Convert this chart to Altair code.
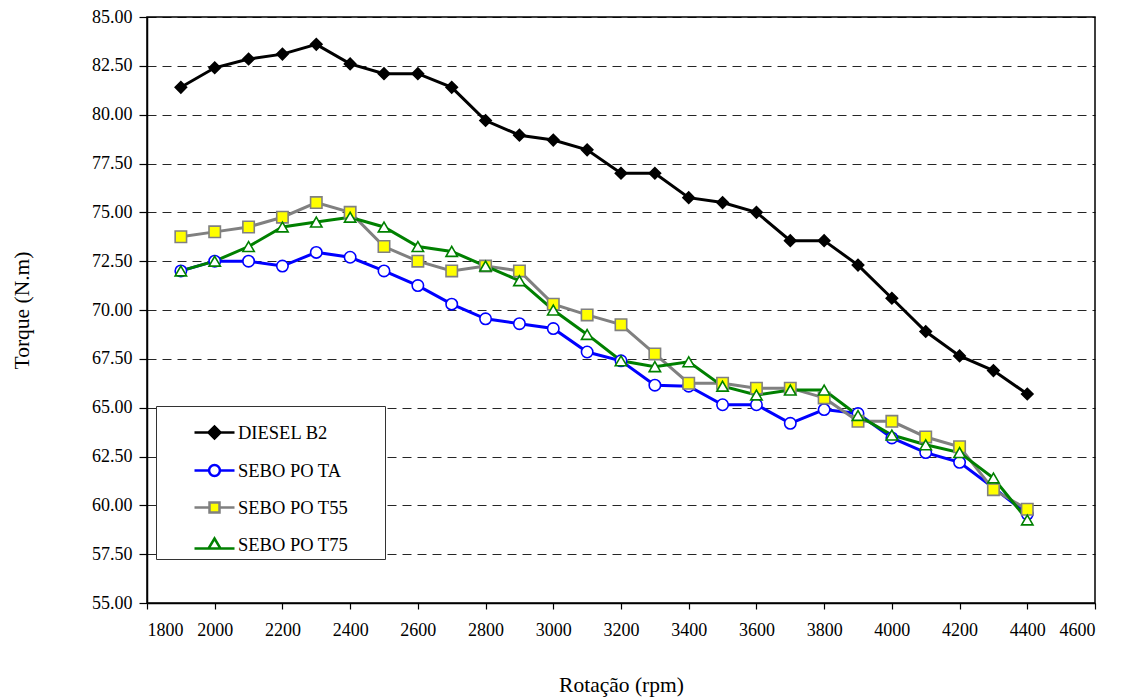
import altair as alt
import pandas as pd

rpm = [1900, 2000, 2100, 2200, 2300, 2400, 2500, 2600, 2700, 2800, 2900, 3000, 3100,
       3200, 3300, 3400, 3500, 3600, 3700, 3800, 3900, 4000, 4100, 4200, 4300, 4400]

diesel_b2 = [81.40, 82.40, 82.85, 83.10, 83.60, 82.60, 82.10, 82.10, 81.40, 79.70, 78.95, 78.70, 78.20,
             77.00, 77.00, 75.75, 75.50, 75.00, 73.55, 73.55, 72.30, 70.60, 68.90, 67.65, 66.90, 65.70]
sebo_ta = [72.00, 72.50, 72.50, 72.25, 72.95, 72.70, 72.00, 71.25, 70.30, 69.55, 69.30, 69.05, 67.85,
           67.40, 66.15, 66.10, 65.15, 65.15, 64.20, 64.90, 64.70, 63.45, 62.70, 62.20, 60.90, 59.55]
sebo_t55 = [73.75, 74.00, 74.25, 74.75, 75.50, 75.00, 73.25, 72.50, 72.00, 72.25, 72.00, 70.30, 69.75,
            69.25, 67.75, 66.25, 66.25, 66.00, 66.00, 65.50, 64.30, 64.30, 63.50, 63.00, 60.80, 59.80]
sebo_t75 = [72.00, 72.50, 73.25, 74.25, 74.50, 74.75, 74.25, 73.25, 73.00, 72.25, 71.50, 70.00, 68.75,
            67.40, 67.10, 67.35, 66.10, 65.65, 65.90, 65.90, 64.60, 63.60, 63.10, 62.70, 61.40, 59.25]

series_names = ["DIESEL B2", "SEBO PO TA", "SEBO PO T55", "SEBO PO T75"]
series_values = [diesel_b2, sebo_ta, sebo_t55, sebo_t75]

line_colors = ["#000000", "#0000FF", "#808080", "#008000"]
marker_fills = ["#000000", "#FFFFFF", "#FFFF00", "#FFFFFF"]
marker_shapes = ["diamond", "circle", "square", "triangle-up"]
legend_shapes = [
    "M-1,0H-0.3M0.3,0H1M-0.3,0L0,-0.3L0.3,0L0,0.3Z",
    "M-1,0H-0.27M0.27,0H1M-0.27,0A0.27,0.27 0 1,0 0.27,0A0.27,0.27 0 1,0 -0.27,0Z",
    "M-1,0H-0.25M0.25,0H1M-0.25,-0.25H0.25V0.25H-0.25Z",
    "M-1,0.2H-0.3M0.3,0.2H1M0,-0.3L0.3,0.2L-0.3,0.2Z",
]

x_ticks = [1800, 2000, 2200, 2400, 2600, 2800, 3000, 3200, 3400, 3600, 3800, 4000, 4200, 4400, 4600]
y_ticks = [55.0, 57.5, 60.0, 62.5, 65.0, 67.5, 70.0, 72.5, 75.0, 77.5, 80.0, 82.5, 85.0]

rows = []
for name, vals in zip(series_names, series_values):
    for r, v in zip(rpm, vals):
        rows.append({"rpm": r, "torque": v, "series": name})
df = pd.DataFrame(rows)

FONT = "Liberation Serif"

x_enc = alt.X(
    "rpm:Q",
    scale=alt.Scale(domain=[1800, 4600], nice=False, zero=False),
    axis=alt.Axis(
        values=x_ticks, format="d", title="Rotação (rpm)", grid=False,
        tickSize=6, labelPadding=12, titleX=474, titleY=82,
        titleAlign="center", titleBaseline="middle",
        labelFont=FONT, titleFont=FONT,
    ),
)
y_enc = alt.Y(
    "torque:Q",
    scale=alt.Scale(domain=[55, 85], nice=False, zero=False),
    axis=alt.Axis(
        values=y_ticks, format=".2f", title="Torque (N.m)", grid=True,
        gridDash=[9, 6], gridColor="#000000", gridWidth=1, gridOpacity=0.85,
        tickSize=8, labelPadding=7, titleX=-125, titleY=293, titleAngle=-90,
        titleAlign="center", titleBaseline="middle",
        labelFont=FONT, titleFont=FONT,
    ),
)

lines = alt.Chart(df).mark_line(strokeWidth=3).encode(
    x=x_enc,
    y=y_enc,
    order="rpm:Q",
    color=alt.Color(
        "series:N",
        scale=alt.Scale(domain=series_names, range=line_colors),
        legend=None,
    ),
)

points = alt.Chart(df).mark_point(size=130, strokeWidth=1.6, opacity=1, filled=False).encode(
    x="rpm:Q",
    y="torque:Q",
    shape=alt.Shape("series:N", scale=alt.Scale(domain=series_names, range=marker_shapes), legend=None),
    fill=alt.Fill("series:N", scale=alt.Scale(domain=series_names, range=marker_fills), legend=None),
    stroke=alt.Stroke("series:N", scale=alt.Scale(domain=series_names, range=line_colors), legend=None),
)

leg = alt.Legend(
    title=".", titleOrient="right", titleColor="white", titleFontSize=16,
    titlePadding=28, titleFont=FONT,
    orient="none", legendX=9, legendY=389,
    fillColor="white", strokeColor="#333333", padding=5,
    symbolSize=1600, symbolStrokeWidth=2.5, symbolOffset=32,
    labelFont=FONT, labelFontSize=18.5, labelColor="black",
    labelOffset=2, rowPadding=5,
)

legend_layer = alt.Chart(df).transform_filter("false").mark_point(
    opacity=1, filled=False, strokeWidth=2.5
).encode(
    x="rpm:Q",
    y="torque:Q",
    shape=alt.Shape("series:N", scale=alt.Scale(domain=series_names, range=legend_shapes), legend=leg),
    fill=alt.Fill("series:N", scale=alt.Scale(domain=series_names, range=marker_fills), legend=leg),
    stroke=alt.Stroke("series:N", scale=alt.Scale(domain=series_names, range=line_colors), legend=leg),
)

chart = (
    alt.layer(lines, points, legend_layer)
    .resolve_scale(shape="independent", fill="independent", stroke="independent")
    .properties(
        width=948, height=586,
        autosize=alt.AutoSizeParams(type="none"),
        padding={"left": 147, "top": 17, "right": 26, "bottom": 97},
        background="white",
    )
    .configure(font=FONT)
    .configure_view(stroke="black", strokeWidth=1.5)
    .configure_axis(
        domainColor="black", domainWidth=1.5, tickColor="black", tickWidth=1.2,
        labelFontSize=18, labelColor="black",
        titleFontSize=21.5, titleColor="black", titleFontWeight="normal",
    )
)

chart.save("out.html", embed_options={"renderer": "svg", "actions": False})
